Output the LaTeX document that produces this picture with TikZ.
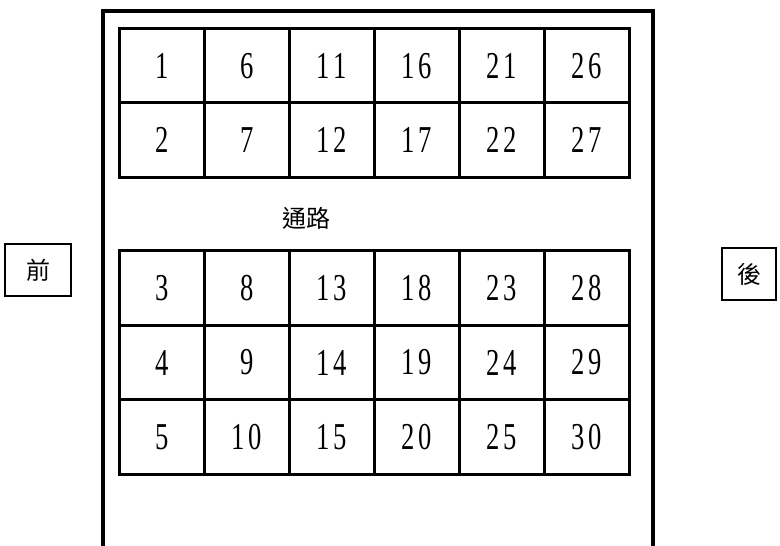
\documentclass[tikz,border=0pt]{standalone}
\usepackage{fontspec}
\newfontfamily\digitfont{Liberation Serif}
\newfontfamily\cjk{Noto Sans CJK TC}
\newcommand\seatnum[1]{\scalebox{0.7}[1]{\digitfont\fontsize{38}{38}\selectfont #1}}
\tikzset{
  cell/.style={draw, line width=3pt, minimum width=84.92pt, minimum height=74.4pt, inner sep=0pt, anchor=center},
  sidebox/.style={draw, line width=1.4pt, inner sep=0pt},
  frameline/.style={line width=4pt},
  cjklabel/.style={font=\cjk\fontsize{24}{24}\selectfont, inner sep=0pt}
}
\begin{document}
\begin{tikzpicture}[x=1pt,y=-1pt]
\useasboundingbox (0,0) rectangle (780,546);
% outer frame
\coordinate (fbl) at (103,548);
\coordinate (ftl) at (103,10.5);
\coordinate (ftr) at (653,10.5);
\coordinate (fbr) at (653,548);
\draw[frameline] (fbl) -- (ftl) -- (ftr) -- (fbr);
% top block
\foreach \i in {0,...,5}{
  \foreach \r in {0,1}{
    \pgfmathtruncatemacro\n{5*\i+\r+1}
    \pgfmathtruncatemacro\tn{\n/10}
    \pgfmathtruncatemacro\un{\n-10*\tn}
    \node[cell] (c\n) at ({119.5+84.92*(\i+0.5)},{28.5+74.4*(\r+0.5)})
      {\seatnum{\ifnum\tn>0 \tn\kern6pt\fi\un}};
  }
}
% bottom block
\foreach \i in {0,...,5}{
  \foreach \r in {0,1,2}{
    \pgfmathtruncatemacro\n{5*\i+\r+3}
    \pgfmathtruncatemacro\tn{\n/10}
    \pgfmathtruncatemacro\un{\n-10*\tn}
    \node[cell] (c\n) at ({119.5+84.92*(\i+0.5)},{251+74.33*(\r+0.5)})
      {\seatnum{\ifnum\tn>0 \tn\kern6pt\fi\un}};
  }
}
\node[cjklabel] (aisle) at (306,218) {通路};
\node[sidebox, minimum width=66pt, minimum height=52pt] (front) at (38,270) {};
\node[cjklabel] (frontt) at (front.center) {前};
\node[sidebox, minimum width=54pt, minimum height=52pt] (back) at (749,274) {};
\node[cjklabel] (backt) at (back.center) {後};
\end{tikzpicture}
\end{document}
